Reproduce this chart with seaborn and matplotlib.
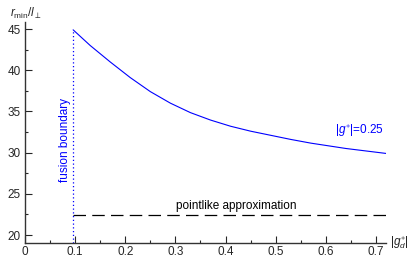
import numpy as np
import pandas as pd
import matplotlib
matplotlib.use('Agg')
import matplotlib.pyplot as plt
import seaborn as sns
from matplotlib.ticker import MultipleLocator

# curve for |g*| = 0.25
g_d = [0.096, 0.13, 0.17, 0.21, 0.25, 0.29, 0.33, 0.37, 0.41, 0.45, 0.49, 0.53, 0.57, 0.64, 0.72]
r_min = [44.9, 43.0, 41.0, 39.1, 37.4, 36.0, 34.85, 33.95, 33.2, 32.6, 32.1, 31.6, 31.15, 30.5, 29.9]

# fusion boundary and pointlike value
g_fusion = 0.095
r_point = 22.4
point_x = [0.095, 0.72]

sns.set_style('ticks')
plt.rcParams['font.family'] = ['Liberation Sans', 'DejaVu Sans']
plt.rcParams['mathtext.fontset'] = 'custom'
plt.rcParams['mathtext.rm'] = 'Liberation Sans'
plt.rcParams['mathtext.it'] = 'Liberation Sans:italic'
plt.rcParams['mathtext.sf'] = 'Liberation Sans'

fig = plt.figure(figsize=(4.15, 2.59), dpi=100)
ax = fig.add_axes([25 / 415, 16 / 259, 361 / 415, 221 / 259])

df = pd.DataFrame({'g_d': g_d, 'r_min': r_min})
sns.lineplot(data=df, x='g_d', y='r_min', ax=ax, color='blue', lw=0.8)

# pointlike approximation
sns.lineplot(x=point_x, y=[r_point, r_point], ax=ax, color='black', lw=0.9,
             dashes=False, linestyle=(0, (10, 5)))

# fusion boundary
ax.plot([g_fusion, g_fusion], [19, r_min[0]], color='blue', lw=0.9, linestyle=(0, (1, 2)))

ax.set_xlim(0, 0.72)
ax.set_ylim(19.03, 45.85)
ax.xaxis.set_major_locator(MultipleLocator(0.1))
ax.xaxis.set_minor_locator(MultipleLocator(0.05))
ax.yaxis.set_major_locator(MultipleLocator(5))
ax.yaxis.set_minor_locator(MultipleLocator(2.5))
ax.xaxis.set_major_formatter(plt.FuncFormatter(lambda v, p: '0' if v == 0 else f'{v:.1f}'))
ax.tick_params(which='major', direction='in', length=5, width=0.8, labelsize=8.5, pad=3)
ax.tick_params(which='minor', direction='in', length=2.5, width=0.8)
ax.tick_params(axis='x', which='major', pad=2)
sns.despine(ax=ax)
for s in ['left', 'bottom']:
    ax.spines[s].set_linewidth(1.0)
    ax.spines[s].set_color('#333333')
ax.set_xlabel('')
ax.set_ylabel('')

ax.text(0.079, 31.5, 'fusion boundary', color='blue', fontsize=8.5, rotation=90,
        ha='center', va='center')
ax.text(0.668, 32.6, r'$|g^{\ast}|$=0.25', color='blue', fontsize=8.5, ha='center', va='center')
ax.text(0.422, 23.5, 'pointlike approximation', color='black', fontsize=8.5,
        ha='center', va='center')

ax.text(1.012, 0.0, r'$|g_d^{\ast}|$', transform=ax.transAxes, fontsize=8.5,
        ha='left', va='center')
fig.text(10 / 415, 1 - 13 / 259, r'$r_{\rm min}/l_\perp$', fontsize=8.5, ha='left', va='center')

fig.savefig('out.png', dpi=100)
